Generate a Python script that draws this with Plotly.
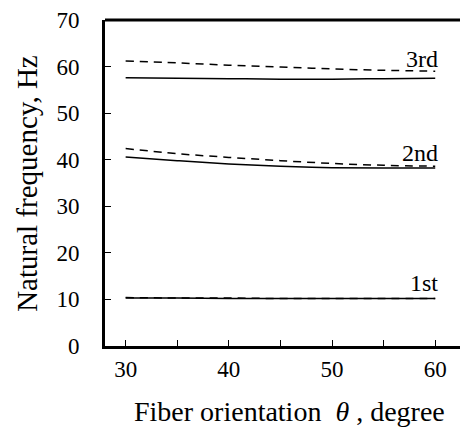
import plotly.graph_objects as go

theta = [30, 35, 40, 45, 50, 55, 60]
first_solid = [10.3, 10.3, 10.2, 10.2, 10.2, 10.2, 10.2]
first_dashed = [10.4, 10.3, 10.3, 10.2, 10.2, 10.2, 10.2]
second_solid = [40.6, 39.8, 39.1, 38.6, 38.3, 38.2, 38.2]
second_dashed = [42.4, 41.3, 40.5, 39.8, 39.2, 38.8, 38.6]
third_solid = [57.6, 57.5, 57.4, 57.3, 57.3, 57.4, 57.5]
third_dashed = [61.2, 60.8, 60.3, 59.9, 59.5, 59.2, 59.0]
mode_labels = ["3rd", "2nd", "1st"]
label_pos = [(58.7, 61.6), (58.5, 41.5), (58.9, 13.5)]
x_title = "Fiber orientation&nbsp;&nbsp;<i>θ</i>&nbsp;, degree"
y_title = "Natural frequency, Hz"

FONT = "Liberation Serif"

fig = go.Figure()
for ys, dash in [(first_dashed, "dash"), (first_solid, "solid"),
                 (second_dashed, "dash"), (second_solid, "solid"),
                 (third_dashed, "dash"), (third_solid, "solid")]:
    fig.add_trace(go.Scatter(x=theta, y=ys, mode="lines", line_shape="spline",
                             line=dict(color="black", width=1.5,
                                       dash="8px,6px" if dash == "dash" else "solid"),
                             showlegend=False, hoverinfo="skip"))

for txt, (xx, yy) in zip(mode_labels, label_pos):
    fig.add_annotation(x=xx, y=yy, text=txt, showarrow=False, xref="x", yref="y",
                       font=dict(family=FONT, size=24, color="black"))

fig.add_annotation(x=0.521, y=-0.2, xref="paper", yref="paper", text=x_title,
                   showarrow=False, xanchor="center", yanchor="middle",
                   font=dict(family=FONT, size=28, color="black"))
fig.add_annotation(x=-0.222, y=0.498, xref="paper", yref="paper", text=y_title,
                   showarrow=False, xanchor="center", yanchor="middle", textangle=-90,
                   font=dict(family=FONT, size=29, color="black"))

fig.update_layout(
    width=460, height=430,
    margin=dict(l=105, r=0, t=20, b=84),
    plot_bgcolor="white", paper_bgcolor="white",
    font=dict(family=FONT, size=23, color="black"),
    xaxis=dict(range=[28, 62.4], tickvals=[30, 40, 50, 60], ticks="inside",
               ticklen=6, tickwidth=1.2, tickcolor="black",
               minor=dict(tickvals=[35, 45, 55], ticks="inside", ticklen=6,
                          tickwidth=1.2, tickcolor="black"),
               showline=True, linewidth=3, linecolor="black", mirror=False,
               showgrid=False, zeroline=False, ticklabelstandoff=0),
    yaxis=dict(range=[0, 70], tickvals=[0, 10, 20, 30, 40, 50, 60, 70],
               ticks="inside", ticklen=6, tickwidth=1.2, tickcolor="black",
               showline=True, linewidth=3, linecolor="black",
               showgrid=False, zeroline=False, ticklabelstandoff=18),
)
# top border line
fig.add_shape(type="line", xref="paper", yref="paper", x0=0, x1=1, y0=1, y1=1,
              line=dict(color="black", width=3))

fig.write_html("out.html", config={"displayModeBar": False},
               post_script="document.body.style.margin='0';"
                           "document.body.style.overflow='hidden';")
